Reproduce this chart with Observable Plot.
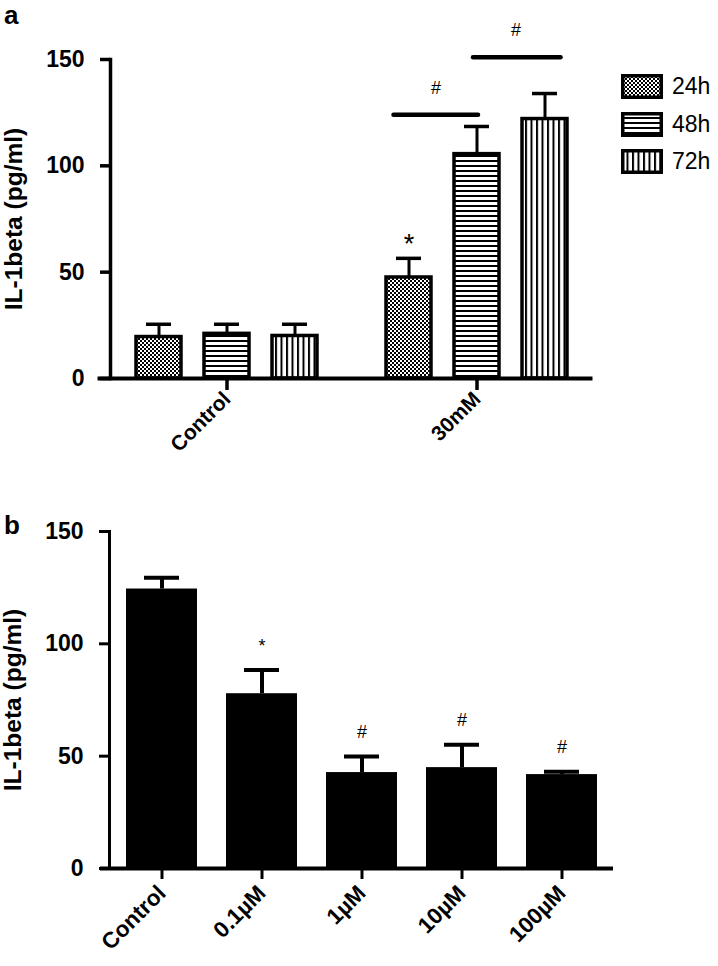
<!DOCTYPE html>
<html><head><meta charset="utf-8">
<script src="https://cdn.jsdelivr.net/npm/d3@7"></script>
<script src="https://cdn.jsdelivr.net/npm/@observablehq/plot@0.6"></script>
<style>
body{margin:0;background:#fff;font-family:"Liberation Sans",Arial,Helvetica,sans-serif;color:#000}
#wrap{position:relative;width:718px;height:966px;overflow:hidden;background:#fff}
.panel{position:absolute;left:0}
.plabel{position:absolute;left:4px;font-weight:bold;font-size:26px;line-height:28px}
#legend{position:absolute;left:621px;top:68px}
.li{display:flex;align-items:center;height:37.5px;font-size:23px}
.li svg{margin-right:9px}
</style></head><body>
<svg width="0" height="0" style="position:absolute">
<defs>
<pattern id="p24h" width="4" height="4" patternUnits="userSpaceOnUse">
<rect width="4" height="4" fill="#fff"/><rect x="0" y="0" width="2" height="2" fill="#000"/><rect x="2" y="2" width="2" height="2" fill="#000"/>
</pattern>
<pattern id="p48h" width="6" height="5" patternUnits="userSpaceOnUse">
<rect width="6" height="5" fill="#fff"/><rect x="0" y="0" width="6" height="2" fill="#000"/>
</pattern>
<pattern id="p72h" width="5.5" height="6" patternUnits="userSpaceOnUse">
<rect width="5.5" height="6" fill="#fff"/><rect x="0" y="0" width="2" height="6" fill="#000"/>
</pattern>
</defs></svg>
<div id="wrap">
<div class="plabel" style="top:1px">a</div>
<div class="plabel" style="top:511px">b</div>
<div id="panelA" class="panel" style="top:0"></div>
<div id="panelB" class="panel" style="top:470px"></div>
<div id="legend"></div>
</div>
<script>
// ---------- data: panel a ----------
const groupsA = ["Control", "30mM"];
const timesA = ["24h", "48h", "72h"];
const meanControl = [19.5, 21, 20];
const errControl = [6, 4.5, 5.5];
const mean30mM = [47.5, 105.5, 122];
const err30mM = [9, 13, 12];
const sig30mM = ["*", "", ""];
const bracketFrom = ["24h", "48h"];
const bracketTo = ["48h", "72h"];
const bracketLevel = [124, 151];
const bracketLabel = ["#", "#"];
const yTicks = [0, 50, 100, 150];
const yLabel = "IL-1beta (pg/ml)";

// ---------- data: panel b ----------
const dosesB = ["Control", "0.1µM", "1µM", "10µM", "100µM"];
const meanB = [124.4, 77.8, 42.7, 44.9, 41.8];
const errB = [5, 10.6, 7.1, 10.2, 1.3];
const sigB = ["", "*", "#", "#", "#"];

const FONT = '"Liberation Sans", Arial, Helvetica, sans-serif';
const patternOf = t => `url(#p${t})`;

const tableA = [
  ...timesA.map((t, i) => ({group: "Control", time: t, mean: meanControl[i], err: errControl[i], sig: ""})),
  ...timesA.map((t, i) => ({group: "30mM", time: t, mean: mean30mM[i], err: err30mM[i], sig: sig30mM[i]}))
];
const brackets = bracketFrom.map((f, i) => ({group: "30mM", from: f, to: bracketTo[i], level: bracketLevel[i], label: bracketLabel[i]}));
const bracketStyle = [{insetLeft: 7.5, insetRight: 21, dx: -41}, {insetLeft: 19, insetRight: 6.5, dx: -29}];

const plotA = Plot.plot({
  width: 718, height: 470,
  marginLeft: 110, marginRight: 125, marginTop: 59, marginBottom: 92,
  style: {fontFamily: FONT, color: "#000", background: "none", overflow: "visible"},
  fx: {domain: groupsA, paddingInner: 0.068, paddingOuter: 0},
  x: {domain: timesA, paddingInner: 0.343, paddingOuter: 0.372, axis: null},
  y: {domain: [0, 150]},
  color: {type: "identity"},
  marks: [
    Plot.barY(tableA, {fx: "group", x: "time", y: "mean", fill: d => patternOf(d.time), stroke: "#000", strokeWidth: 3.5}),
    Plot.ruleX(tableA, {fx: "group", x: "time", y1: "mean", y2: d => d.mean + d.err, stroke: "#000", strokeWidth: 3}),
    Plot.tickY(tableA, {fx: "group", x: "time", y: d => d.mean + d.err, stroke: "#000", strokeWidth: 3.5, insetLeft: 10, insetRight: 10}),
    Plot.text(tableA.filter(d => d.sig), {fx: "group", x: "time", y: d => d.mean + d.err, text: "sig", dy: -14, fontSize: 27, fill: "#000"}),
    ...brackets.map((b, i) => Plot.ruleY([b], {fx: "group", x1: "from", x2: "to", y: "level", stroke: "#000", strokeWidth: 4.5, strokeLinecap: "round", insetLeft: bracketStyle[i].insetLeft, insetRight: bracketStyle[i].insetRight})),
    ...brackets.map((b, i) => Plot.text([b], {fx: "group", x: "to", y: "level", text: "label", dx: bracketStyle[i].dx, dy: -27, fontSize: 18, fill: "#000"})),
    Plot.frame({anchor: "bottom", facet: "super", stroke: "#000", strokeWidth: 4, insetLeft: -11, insetRight: 3}),
    Plot.frame({anchor: "left", facetAnchor: "left", stroke: "#000", strokeWidth: 3.5}),
    Plot.axisY({ticks: yTicks, tickSize: 10, tickPadding: 16, strokeWidth: 3.5, fontSize: 23, fontWeight: "bold", label: null}),
    Plot.axisY({ticks: [], label: yLabel, labelAnchor: "center", labelArrow: "none", labelOffset: 106, fontSize: 24.5, fontWeight: "bold"}),
    Plot.axisFx({anchor: "bottom", tickSize: 12, tickPadding: 5, tickRotate: -45, strokeWidth: 3.5, fontSize: 21, fontWeight: "bold", label: null})
  ]
});
document.getElementById("panelA").append(plotA);

const tableB = dosesB.map((d, i) => ({dose: d, mean: meanB[i], err: errB[i], sig: sigB[i]}));
const plotB = Plot.plot({
  width: 718, height: 496,
  marginLeft: 109, marginRight: 103, marginTop: 61, marginBottom: 98,
  style: {fontFamily: FONT, color: "#000", background: "none", overflow: "visible"},
  x: {domain: dosesB, paddingInner: 0.287, paddingOuter: 0.149},
  y: {domain: [0, 150]},
  marks: [
    Plot.barY(tableB, {x: "dose", y: "mean", fill: "#000"}),
    Plot.ruleX(tableB, {x: "dose", y1: "mean", y2: d => d.mean + d.err, stroke: "#000", strokeWidth: 4}),
    Plot.tickY(tableB, {x: "dose", y: d => d.mean + d.err, stroke: "#000", strokeWidth: 4, insetLeft: 18, insetRight: 18}),
    Plot.text(tableB.filter(d => d.sig), {x: "dose", y: d => d.mean + d.err, text: "sig", dy: -24, fontSize: 18, fill: "#000"}),
    Plot.ruleY([0], {stroke: "#000", strokeWidth: 4, insetLeft: -9, insetRight: 2}),
    Plot.frame({anchor: "left", stroke: "#000", strokeWidth: 3}),
    Plot.axisY({ticks: yTicks, tickSize: 10, tickPadding: 16, strokeWidth: 3, fontSize: 23, fontWeight: "bold", label: null}),
    Plot.axisY({ticks: [], label: yLabel, labelAnchor: "center", labelArrow: "none", labelOffset: 106, fontSize: 24.5, fontWeight: "bold"}),
    Plot.axisX({tickSize: 11, tickPadding: 10, tickRotate: -45, strokeWidth: 3, fontSize: 22.5, fontWeight: "bold", label: null})
  ]
});
document.getElementById("panelB").append(plotB);

// legend
const legend = document.getElementById("legend");
for (const t of timesA) {
  const row = document.createElement("div");
  row.className = "li";
  row.innerHTML = `<svg width="42" height="25"><rect x="1.75" y="1.75" width="38.5" height="21.5" fill="${patternOf(t)}" stroke="#000" stroke-width="3.5"/></svg><span>${t}</span>`;
  legend.append(row);
}
</script>
</body></html>
